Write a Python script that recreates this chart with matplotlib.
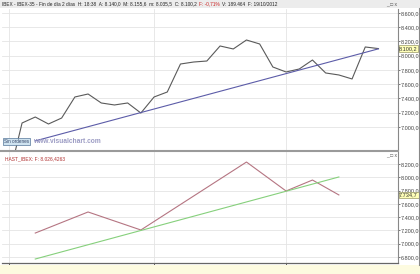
import numpy as np
import matplotlib
matplotlib.use("Agg")
import matplotlib.pyplot as plt
from matplotlib.patches import Rectangle

plt.rcParams["font.family"] = ["Liberation Sans", "DejaVu Sans"]

# bars of 2 sessions, index 0 = first full bar in August
bar_idx = list(range(-1, 28))
price = [6290, 7056, 7140, 7042, 7126, 7421, 7463, 7337, 7309, 7337, 7196,
         7421, 7491, 7884, 7912, 7926, 8137, 8095, 8221, 8165, 7842,
         7772, 7814, 7940, 7758, 7730, 7674, 8123, 8100.2]
trend_x = [1, 27]
trend_y = [6805, 8097]

# indicator panel (zig-zag pivots + its trend line)
zz_x = [1, 5, 9, 17, 20, 22, 24]
zz_y = [7161, 7478, 7207, 8230, 7794, 7959, 7734.7]
green_x = [1, 24]
green_y = [6770, 8005]

month_pos = [-1, 10, 20]
month_lbl = ["Ago", "Sep", "Oct"]
up_ticks = list(range(7000, 8601, 200))
lo_ticks = list(range(6800, 8201, 200))

title_parts = [("IBEX - IBEX-35 - Fin de día 2 días  H: 18:38  A: 8.140,0  "
                "M: 8.155,6  m: 8.035,5  C: 8.100,2 ", "#222222"),
               ("F: -0,71% ", "#cc2222"),
               ("V: 189.464  F: 19/10/2012", "#222222")]

W, H = 420, 274


def es(v):
    s = f"{v:,.1f}"
    return s.replace(",", "X").replace(".", ",").replace("X", ".")


def box(x0, y0, x1, y1):
    # pixel box (top-left origin) -> figure fraction
    return [x0 / W, 1 - y1 / H, (x1 - x0) / W, (y1 - y0) / H]


fig = plt.figure(figsize=(4.2, 2.74), dpi=100)
fig.patch.set_facecolor("white")

# title bar and bottom date strip
fig.patches.append(Rectangle((0, 1 - 8 / H), 1, 8 / H, transform=fig.transFigure,
                             facecolor="#ececec", edgecolor="none"))
fig.patches.append(Rectangle((0, 0), 1, 9 / H, transform=fig.transFigure,
                             facecolor="#fdfbe0", edgecolor="none"))

ax1 = fig.add_axes(box(2, 9, 398, 150))
ax2 = fig.add_axes(box(2, 152, 398, 263))

grid_c = "#e4e4e4"
for ax, ticks in [(ax1, up_ticks), (ax2, lo_ticks)]:
    ax.set_xlim(-1.52, 28.48)
    ax.yaxis.tick_right()
    ax.set_yticks(ticks)
    ax.set_yticklabels([es(t) for t in ticks])
    ax.tick_params(axis="y", labelsize=4.0, length=1.5, width=0.5, pad=0.6,
                   colors="#444444")
    ax.grid(True, color=grid_c, linewidth=0.6)
    ax.set_axisbelow(True)
    for s in ["top", "left", "bottom"]:
        ax.spines[s].set_visible(False)
    ax.spines["right"].set_color("#888888")
    ax.spines["right"].set_linewidth(0.8)
    ax.set_xticks(month_pos)

ax1.set_ylim(6677, 8656)
ax2.set_ylim(6710, 8381)

ax1.tick_params(axis="x", length=0, labelbottom=False)
ax2.set_xticklabels(month_lbl)
ax2.tick_params(axis="x", labelsize=4.2, length=3, width=0.6, pad=0.3,
                direction="out", colors="#444444")
for lab in ax2.get_xticklabels():
    lab.set_horizontalalignment("left")
ax2.spines["bottom"].set_visible(True)
ax2.spines["bottom"].set_color("#666666")
ax2.spines["bottom"].set_linewidth(0.9)

# upper panel
ax1.plot(bar_idx, price, color="#5a5a5a", linewidth=0.8)
ax1.plot(trend_x, trend_y, color="#5c5ca8", linewidth=0.8)
ax1.text(1.003, price[-1], es(price[-1]), transform=ax1.get_yaxis_transform(),
         fontsize=4.0, va="center", ha="left", color="#333333",
         bbox=dict(boxstyle="square,pad=0.12", fc="#ffffb8", ec="#999966", lw=0.5))
ax1.text(0.006, 0.06, "Sin ordenes", transform=ax1.transAxes, fontsize=3.3,
         color="#334466", va="center",
         bbox=dict(boxstyle="square,pad=0.2", fc="#cfe3f0", ec="#557799", lw=0.5))
ax1.text(0.078, 0.06, "www.visualchart.com", transform=ax1.transAxes,
         fontsize=4.8, fontweight="bold", color="#9c9cc4", va="center")

# lower panel
ax2.plot(zz_x, zz_y, color="#b57582", linewidth=0.8)
ax2.plot(green_x, green_y, color="#86d07c", linewidth=0.8)
ax2.text(1.003, zz_y[-1], es(zz_y[-1]), transform=ax2.get_yaxis_transform(),
         fontsize=4.0, va="center", ha="left", color="#333333",
         bbox=dict(boxstyle="square,pad=0.12", fc="#ffffb8", ec="#999966", lw=0.5))
ax2.text(0.008, 0.965, "HAST_IBEX: F: 8.026,4263", transform=ax2.transAxes,
         fontsize=3.5, color="#b03030", va="top")

# separator between panels and right column border
fig.add_artist(plt.Line2D([0, 398 / W], [1 - 151 / H] * 2, color="#9a9a9a", lw=1.5))
fig.add_artist(plt.Line2D([419 / W] * 2, [9 / H, 1 - 8 / H], color="#888888", lw=0.8))

# title line, pieces chained one after another
renderer = fig.canvas.get_renderer()
x = 2 / W
for txt, col in title_parts:
    t = fig.text(x, 1 - 4 / H, txt, fontsize=3.4, va="center", ha="left", color=col)
    x += t.get_window_extent(renderer).width / W + 1 / W

for ytop in (4, 155):
    fig.text(397 / W, 1 - ytop / H, "_ □ x", fontsize=3.6, va="center",
             ha="right", color="#555555")

fig.savefig("out.png", dpi=100)
